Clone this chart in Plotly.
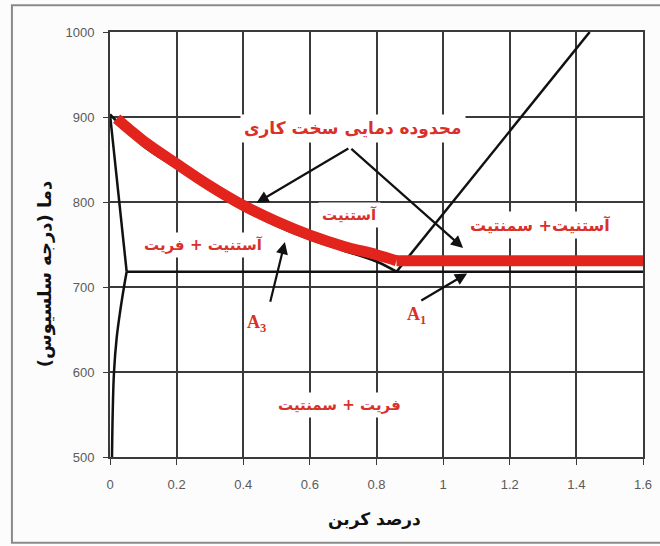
import plotly.graph_objects as go

# --- data (carbon %, temperature °C) ---
a3_red_x = [0.02, 0.1, 0.2, 0.3, 0.4, 0.5, 0.6, 0.7, 0.8, 0.86]
a3_red_y = [898, 872, 845, 819, 796, 777, 761, 748, 738, 731]
a1_red_x = [0.86, 1.6]
a1_red_y = [731, 731]

a3_black_x = [0.0, 0.1, 0.2, 0.3, 0.4, 0.5, 0.6, 0.7, 0.8, 0.86]
a3_black_y = [903, 866, 840, 814, 791, 772, 756, 743, 730, 718]
a1_black_x = [0.05, 1.6]
a1_black_y = [718, 718]
acm_x = [0.86, 1.44]
acm_y = [718, 1000]
ferrite_x = [0.0, 0.05]
ferrite_y = [903, 718]
solvus_x = [0.05, 0.042, 0.03, 0.02, 0.012, 0.008, 0.006]
solvus_y = [718, 700, 670, 640, 600, 550, 500]

x_ticks = [0, 0.2, 0.4, 0.6, 0.8, 1.0, 1.2, 1.4, 1.6]
y_ticks = [500, 600, 700, 800, 900, 1000]

RED = "#e3241d"
TXT_RED = "#d9302a"
GRID = "#3a3a3a"
FA = "DejaVu Sans"

fig = go.Figure()
for xs, ys in [(a3_black_x, a3_black_y), (a1_black_x, a1_black_y), (acm_x, acm_y),
               (ferrite_x, ferrite_y), (solvus_x, solvus_y)]:
    fig.add_trace(go.Scatter(x=xs, y=ys, mode="lines", line=dict(color="#111", width=2.5),
                             line_shape="spline", hoverinfo="skip"))
fig.add_trace(go.Scatter(x=a3_red_x, y=a3_red_y, mode="lines", line_shape="spline",
                         line=dict(color=RED, width=11), hoverinfo="skip"))
fig.add_trace(go.Scatter(x=a1_red_x, y=a1_red_y, mode="lines",
                         line=dict(color=RED, width=11), hoverinfo="skip"))

# region labels (white boxes hide the grid behind them, as in the original)
labels = [
    ("محدوده دمایی سخت کاری", 0.73, 886, 17),
    ("آستنیت", 0.72, 785, 15),
    ("آستنیت + فریت", 0.28, 750, 15),
    ("آستنیت+ سمنتیت", 1.29, 773, 16),
    ("فریت + سمنتیت", 0.69, 561, 15),
]
for text, x, y, size in labels:
    fig.add_annotation(x=x, y=y, text=f"<b>{text}</b>", showarrow=False,
                       font=dict(family=FA, size=size, color=TXT_RED),
                       bgcolor="white", borderpad=3)

fig.add_annotation(x=0.44, y=657, text="<b>A<sub>3</sub></b>", showarrow=False,
                   font=dict(family="Liberation Serif", size=18, color=TXT_RED), bgcolor="white")
fig.add_annotation(x=0.92, y=667, text="<b>A<sub>1</sub></b>", showarrow=False,
                   font=dict(family="Liberation Serif", size=18, color=TXT_RED), bgcolor="white")

# arrows: (head x, head y, tail x, tail y)
arrows = [
    (0.44, 799, 0.72, 864),
    (1.06, 746, 0.72, 864),
    (0.525, 753, 0.48, 681),
    (1.072, 716, 0.93, 683),
]
for hx, hy, tx, ty in arrows:
    fig.add_annotation(x=hx, y=hy, ax=tx, ay=ty, xref="x", yref="y", axref="x", ayref="y",
                       text="", showarrow=True, arrowhead=2, arrowsize=1.1,
                       arrowwidth=2.2, arrowcolor="#111")

# axis titles
fig.add_annotation(x=-0.122, y=0.43, xref="paper", yref="paper", textangle=-90,
                   xanchor="center", yanchor="middle",
                   text="<b>دما (درجه سلسیوس)\u200f</b>", showarrow=False,
                   font=dict(family=FA, size=18, color="#111"))
fig.add_annotation(x=0.497, y=-0.148, xref="paper", yref="paper",
                   xanchor="center", yanchor="middle",
                   text="<b>درصد کربن</b>", showarrow=False,
                   font=dict(family=FA, size=17, color="#111"))

# outer frame
fig.add_shape(type="rect", xref="paper", yref="paper", x0=-0.184, x1=1.04, y0=-0.202, y1=1.063,
              line=dict(color="#8a8a8a", width=2), layer="below")

fig.update_layout(
    width=660, height=546,
    margin=dict(l=110, r=17, t=32, b=89, autoexpand=False),
    paper_bgcolor="#fcfcfc", plot_bgcolor="white",
    showlegend=False,
    font=dict(family="Liberation Sans", size=13, color="#5a5a5a"),
)
fig.update_xaxes(range=[0, 1.6], tickvals=x_ticks, ticktext=[f"{v:g}" for v in x_ticks],
                 showgrid=True, gridcolor=GRID, gridwidth=1.8, zeroline=False, automargin=False,
                 showline=True, linecolor=GRID, linewidth=1.8, mirror=True,
                 ticks="outside", ticklen=6, tickcolor=GRID, ticklabelstandoff=8)
fig.update_yaxes(range=[500, 1000], tickvals=y_ticks, automargin=False,
                 showgrid=True, gridcolor=GRID, gridwidth=1.8, zeroline=False,
                 showline=True, linecolor=GRID, linewidth=1.8, mirror=True,
                 ticks="outside", ticklen=5, tickcolor=GRID, ticklabelstandoff=6)

# drop the page's default body margin so the figure sits at the window origin
fig.write_html("out.html", config={"displayModeBar": False},
               post_script="document.body.style.margin='0';")
